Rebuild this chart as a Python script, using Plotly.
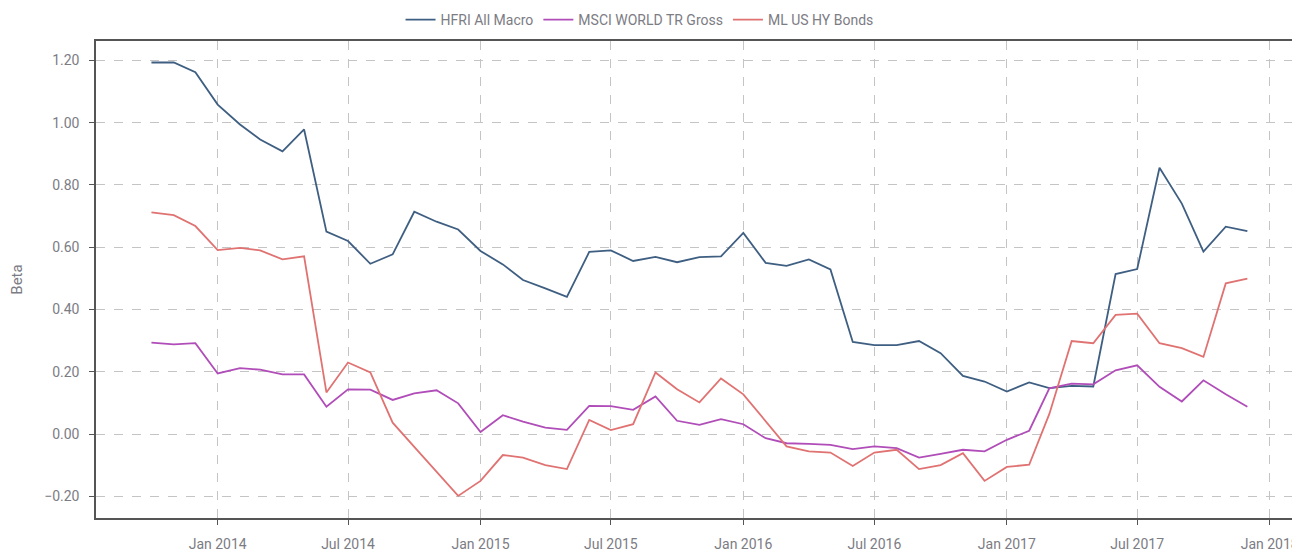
import pandas as pd
import plotly.graph_objs as go

# monthly beta readings, Oct 2013 - Dec 2017
months = pd.date_range("2013-10-01", "2017-12-01", freq="MS")

hfri_macro = [1.193, 1.193, 1.162,
              1.058, 0.994, 0.946, 0.908, 0.978, 0.650, 0.620, 0.547, 0.577, 0.714, 0.682, 0.657,
              0.588, 0.545, 0.495, 0.468, 0.441, 0.585, 0.590, 0.556, 0.569, 0.552, 0.568, 0.571,
              0.646, 0.550, 0.540, 0.561, 0.529, 0.296, 0.286, 0.286, 0.299, 0.260, 0.187, 0.169,
              0.137, 0.166, 0.148, 0.155, 0.153, 0.514, 0.530, 0.855, 0.740, 0.586, 0.666, 0.652]

msci_world = [0.294, 0.288, 0.292,
              0.195, 0.212, 0.207, 0.192, 0.192, 0.088, 0.144, 0.143, 0.110, 0.131, 0.141, 0.099,
              0.007, 0.061, 0.040, 0.021, 0.014, 0.091, 0.090, 0.078, 0.121, 0.043, 0.030, 0.048,
              0.032, -0.013, -0.029, -0.031, -0.034, -0.048, -0.039, -0.045, -0.075, -0.063, -0.050, -0.055,
              -0.018, 0.011, 0.147, 0.162, 0.160, 0.205, 0.221, 0.152, 0.105, 0.173, 0.128, 0.088]

ml_us_hy = [0.712, 0.703, 0.668,
            0.591, 0.598, 0.590, 0.561, 0.571, 0.134, 0.230, 0.198, 0.037, -0.041, -0.122, -0.198,
            -0.150, -0.067, -0.075, -0.099, -0.112, 0.046, 0.013, 0.032, 0.198, 0.144, 0.102, 0.179,
            0.128, 0.041, -0.039, -0.055, -0.059, -0.102, -0.059, -0.050, -0.112, -0.099, -0.061, -0.150,
            -0.105, -0.098, 0.065, 0.299, 0.292, 0.383, 0.387, 0.292, 0.276, 0.248, 0.484, 0.499]

series = [("HFRI All Macro", hfri_macro, "#3f5f82"),
          ("MSCI WORLD TR Gross", msci_world, "#b04db8"),
          ("ML US HY Bonds", ml_us_hy, "#e07272")]

font = "Roboto, Open Sans, sans-serif"
txt_col = "#7c7c84"

fig = go.Figure()
for name, vals, col in series:
    fig.add_trace(go.Scatter(x=months, y=vals, mode="lines", name=name,
                             line=dict(color=col, width=1.8)))

axis_common = dict(showline=True, linecolor="#555555", linewidth=1.5,
                   showgrid=True, gridcolor="#c4c4c4", griddash="dash", gridwidth=1,
                   ticks="outside", ticklen=5, tickcolor="#555555", zeroline=False,
                   automargin=False, ticklabelstandoff=7, ticklabeloverflow="allow",
                   tickfont=dict(family=font, size=14, color=txt_col))

fig.update_xaxes(range=["2013-07-16", "2018-02-01"], tick0="2014-01-01", dtick="M6",
                 tickformat="%b %Y", mirror=True, **axis_common)
fig.update_yaxes(range=[-0.269, 1.262], tick0=0, dtick=0.2, tickformat=".2f", mirror=False,
                 title=dict(text="Beta", font=dict(family=font, size=15, color=txt_col), standoff=18),
                 **axis_common)

fig.update_layout(width=1292, height=552, plot_bgcolor="white", paper_bgcolor="white",
                  margin=dict(l=96, r=0, t=41, b=34),
                  legend=dict(orientation="h", x=0.495, xanchor="center", xref="container",
                              y=1 - 20 / 552, yanchor="middle", yref="container",
                              bgcolor="rgba(0,0,0,0)",
                              font=dict(family=font, size=14, color=txt_col)),
                  showlegend=True)

# drop the default page margin so the figure fills the window exactly
fig.write_html("out.html", config={"displayModeBar": False},
               post_script="document.body.style.margin='0';document.body.style.overflow='hidden';")
